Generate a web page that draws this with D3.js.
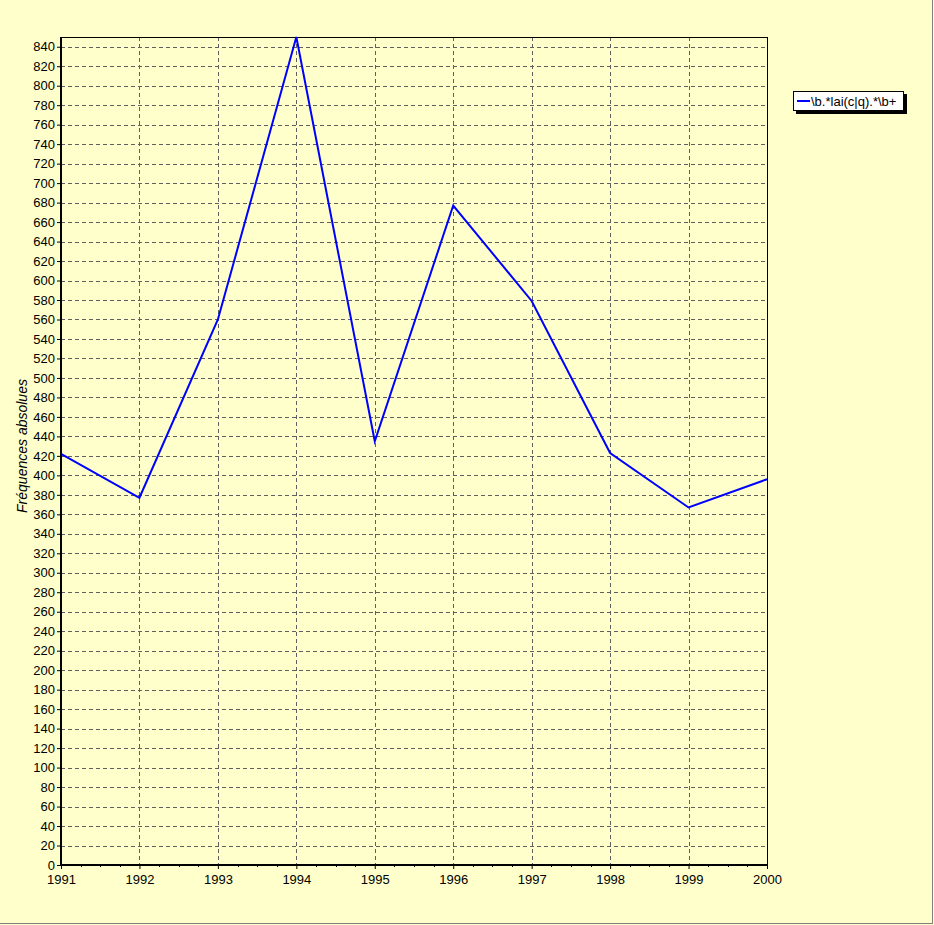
<!DOCTYPE html>
<html>
<head>
<meta charset="utf-8">
<script src="https://cdn.jsdelivr.net/npm/d3@7"></script>
<style>
  body { margin: 0; background: #ffffcc; }
  svg { display: block; }
  text { font-family: "Liberation Sans", Arial, sans-serif; }
</style>
</head>
<body>
<svg width="934" height="925"></svg>
<script>
// data
var years = [1991, 1992, 1993, 1994, 1995, 1996, 1997, 1998, 1999, 2000];
var values = [422, 377, 560, 850, 435, 677, 579, 423, 367, 396];
var seriesName = "\\b.*lai(c|q).*\\b+";
var yLabel = "Fréquences absolues";

var svg = d3.select("svg");
var margin = {top: 37, left: 61, right: 167, bottom: 60};
var width = 934 - margin.left - margin.right;
var height = 828;

svg.append("rect").attr("width", 934).attr("height", 925).attr("fill", "#ffffcc");
svg.append("line").attr("x1", 0).attr("x2", 933).attr("y1", 923.5).attr("y2", 923.5).attr("stroke", "#808080");
svg.append("line").attr("x1", 932.5).attr("x2", 932.5).attr("y1", 0).attr("y2", 924).attr("stroke", "#808080");

var g = svg.append("g").attr("transform", "translate(" + margin.left + "," + margin.top + ")");

var x = d3.scaleLinear().domain([1991, 2000]).range([0, width]);
var y = d3.scaleLinear().domain([0, 850]).range([height, 0]);

var yTicks = d3.range(0, 841, 20);

// grid
g.append("g").selectAll("line").data(yTicks.slice(1)).enter().append("line")
  .attr("x1", 0).attr("x2", width)
  .attr("y1", function(d) { return Math.round(y(d)) + 0.5; })
  .attr("y2", function(d) { return Math.round(y(d)) + 0.5; })
  .attr("stroke", "#606060").attr("stroke-dasharray", "4,3");
g.append("g").selectAll("line").data(years.slice(1, -1)).enter().append("line")
  .attr("y1", 0).attr("y2", height)
  .attr("x1", function(d) { return Math.round(x(d)) + 0.5; })
  .attr("x2", function(d) { return Math.round(x(d)) + 0.5; })
  .attr("stroke", "#606060").attr("stroke-dasharray", "4,3");

// frame
g.append("line").attr("x1", 0).attr("x2", width).attr("y1", 0.5).attr("y2", 0.5).attr("stroke", "#000");
g.append("line").attr("x1", width + 0.5).attr("x2", width + 0.5).attr("y1", 0).attr("y2", height).attr("stroke", "#000");

// line
var line = d3.line()
  .x(function(d, i) { return x(years[i]); })
  .y(function(d) { return y(d); });
g.append("path").datum(values)
  .attr("d", line)
  .attr("fill", "none")
  .attr("stroke", "#0000ff")
  .attr("stroke-width", 2);

// y axis
var yAxis = g.append("g")
  .call(d3.axisLeft(y).tickValues(yTicks).tickSize(4).tickPadding(2).tickFormat(d3.format("d")));
yAxis.select(".domain").remove();
yAxis.selectAll("text").attr("font-size", 13).attr("fill", "#000").style("font-family", "Liberation Sans, Arial, sans-serif");
g.append("line").attr("x1", 0).attr("x2", 0).attr("y1", 0).attr("y2", height + 1).attr("stroke", "#000").attr("stroke-width", 2);

// x axis
var xAxis = g.append("g").attr("transform", "translate(0," + height + ")")
  .call(d3.axisBottom(x).tickValues(years).tickSize(4).tickPadding(6).tickFormat(d3.format("d")));
xAxis.select(".domain").remove();
xAxis.selectAll("text").attr("font-size", 13).attr("fill", "#000").style("font-family", "Liberation Sans, Arial, sans-serif");
var minor = [];
years.slice(0, -1).forEach(function(yr) { [0.25, 0.5, 0.75].forEach(function(f) { minor.push(yr + f); }); });
g.append("g").selectAll("line").data(minor).enter().append("line")
  .attr("x1", function(d) { return Math.round(x(d)) + 0.5; })
  .attr("x2", function(d) { return Math.round(x(d)) + 0.5; })
  .attr("y1", height).attr("y2", height + 2).attr("stroke", "#000");
g.append("line").attr("x1", -1).attr("x2", width).attr("y1", height).attr("y2", height).attr("stroke", "#000").attr("stroke-width", 2);

// y label
svg.append("text")
  .attr("transform", "translate(27,446) rotate(-90)")
  .attr("text-anchor", "middle")
  .attr("font-size", 14)
  .attr("font-style", "italic")
  .text(yLabel);

// legend
var lg = svg.append("g").attr("transform", "translate(793,91)");
lg.append("rect").attr("x", 3).attr("y", 3).attr("width", 111).attr("height", 20).attr("fill", "#000");
lg.append("rect").attr("x", 0.5).attr("y", 0.5).attr("width", 110).attr("height", 19).attr("fill", "#fff").attr("stroke", "#000");
lg.append("line").attr("x1", 4).attr("x2", 17).attr("y1", 10).attr("y2", 10).attr("stroke", "#0000ff").attr("stroke-width", 2);
lg.append("text").attr("x", 18).attr("y", 14.5).attr("font-size", 13).text(seriesName);
</script>
</body>
</html>
